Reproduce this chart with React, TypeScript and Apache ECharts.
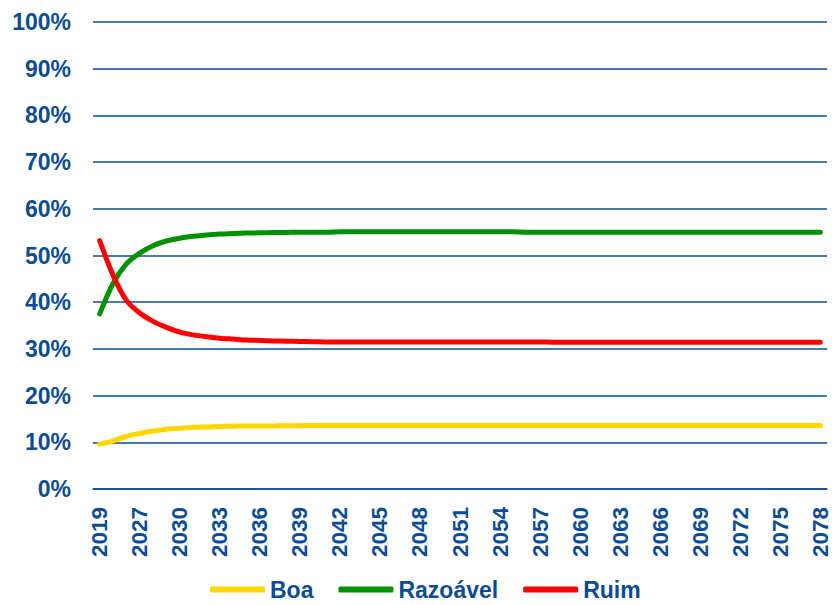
import React, { useEffect, useRef } from "react";
import * as echarts from "echarts";

const years: string[] = [
  "2019", "2025", "2026", "2027", "2028", "2029", "2030", "2031", "2032", "2033",
  "2034", "2035", "2036", "2037", "2038", "2039", "2040", "2041", "2042", "2043",
  "2044", "2045", "2046", "2047", "2048", "2049", "2050", "2051", "2052", "2053",
  "2054", "2055", "2056", "2057", "2058", "2059", "2060", "2061", "2062", "2063",
  "2064", "2065", "2066", "2067", "2068", "2069", "2070", "2071", "2072", "2073",
  "2074", "2075", "2076", "2077", "2078",
];

const boa: number[] = [
  9.6, 10.3, 11.3, 11.9, 12.4, 12.8, 13.0, 13.2, 13.3, 13.4,
  13.45, 13.5, 13.5, 13.5, 13.55, 13.55, 13.6, 13.6, 13.6, 13.6,
  13.6, 13.6, 13.6, 13.6, 13.6, 13.6, 13.6, 13.6, 13.6, 13.6,
  13.6, 13.6, 13.6, 13.6, 13.6, 13.6, 13.6, 13.6, 13.6, 13.6,
  13.6, 13.6, 13.6, 13.6, 13.6, 13.6, 13.6, 13.6, 13.6, 13.6,
  13.6, 13.6, 13.6, 13.6, 13.6,
];

const razoavel: number[] = [
  37.5, 44.0, 48.2, 50.5, 52.1, 53.1, 53.7, 54.1, 54.4, 54.6,
  54.7, 54.8, 54.85, 54.9, 54.95, 55.0, 55.0, 55.0, 55.1, 55.1,
  55.1, 55.1, 55.1, 55.1, 55.1, 55.1, 55.1, 55.1, 55.1, 55.1,
  55.1, 55.1, 55.0, 55.0, 55.0, 55.0, 55.0, 55.0, 55.0, 55.0,
  55.0, 55.0, 55.0, 55.0, 55.0, 55.0, 55.0, 55.0, 55.0, 55.0,
  55.0, 55.0, 55.0, 55.0, 55.0,
];

const ruim: number[] = [
  53.2, 45.8, 40.4, 37.7, 35.9, 34.6, 33.6, 33.0, 32.6, 32.3,
  32.1, 31.9, 31.8, 31.7, 31.65, 31.6, 31.55, 31.5, 31.5, 31.5,
  31.5, 31.5, 31.5, 31.5, 31.5, 31.5, 31.5, 31.5, 31.5, 31.5,
  31.5, 31.5, 31.5, 31.5, 31.45, 31.45, 31.45, 31.45, 31.45, 31.45,
  31.45, 31.45, 31.45, 31.45, 31.45, 31.45, 31.45, 31.45, 31.45, 31.45,
  31.45, 31.45, 31.45, 31.45, 31.45,
];

const seriesNames = ["Boa", "Razoável", "Ruim"];
const seriesColors = ["#FFD600", "#009100", "#FF0000"];

const BLUE = "#0B4C94";
const FONT = "Liberation Sans, Arial, sans-serif";

export default function App() {
  const ref = useRef<HTMLDivElement>(null);

  useEffect(() => {
    if (!ref.current) return;
    const chart = echarts.init(ref.current, undefined, { renderer: "svg" });
    const datasets = [boa, razoavel, ruim];
    chart.setOption({
      animation: false,
      backgroundColor: "#ffffff",
      grid: {
        left: 93,
        right: 5,
        top: 22,
        bottom: 116,
        containLabel: false,
        outerBoundsMode: "none",
      },
      legend: {
        left: 205,
        top: 576,
        padding: [2, 5, 2, 5],
        itemWidth: 55,
        itemHeight: 6,
        itemGap: 25,
        icon: "roundRect",
        textStyle: {
          color: BLUE,
          fontSize: 23,
          lineHeight: 22,
          fontWeight: "bold",
          fontFamily: FONT,
        },
        data: seriesNames,
      },
      xAxis: {
        type: "category",
        data: years,
        boundaryGap: true,
        axisLine: { show: true, lineStyle: { color: BLUE, width: 1.5 } },
        axisTick: { show: false },
        axisLabel: {
          interval: 2,
          rotate: 90,
          margin: 18,
          color: BLUE,
          fontSize: 22.5,
          fontWeight: "bold",
          fontFamily: FONT,
        },
        splitLine: { show: false },
      },
      yAxis: {
        type: "value",
        min: 0,
        max: 100,
        interval: 10,
        axisLine: { show: false },
        axisTick: { show: false },
        axisLabel: {
          formatter: "{value}%",
          margin: 22,
          color: BLUE,
          fontSize: 23,
          fontWeight: "bold",
          fontFamily: FONT,
        },
        splitLine: { show: true, lineStyle: { color: BLUE, width: 1.5 } },
      },
      series: seriesNames.map((name, i) => ({
        name,
        type: "line",
        data: datasets[i],
        smooth: 0.3,
        symbol: "none",
        color: seriesColors[i],
        lineStyle: { color: seriesColors[i], width: 5, cap: "round", join: "round" },
        itemStyle: { color: seriesColors[i] },
      })),
    });
    return () => chart.dispose();
  }, []);

  return (
    <div
      ref={ref}
      style={{ position: "fixed", left: 0, top: 0, width: 832, height: 605 }}
    />
  );
}
